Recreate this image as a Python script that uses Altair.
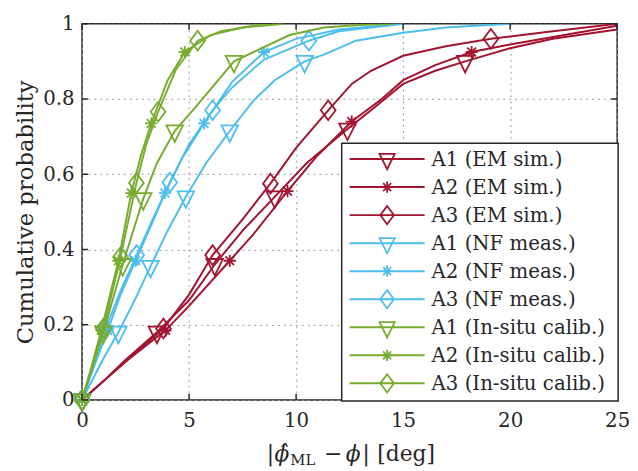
import altair as alt
import pandas as pd

# ---------------- data ----------------
series_names = [
    "A1 (EM sim.)", "A2 (EM sim.)", "A3 (EM sim.)",
    "A1 (NF meas.)", "A2 (NF meas.)", "A3 (NF meas.)",
    "A1 (In-situ calib.)", "A2 (In-situ calib.)", "A3 (In-situ calib.)",
]

# EM simulation
em_a1_x = [0, 1, 2, 3.5, 5, 6.2, 7.5, 9.0, 10.5, 12.4, 13.5, 15, 16.5, 17.9, 20, 22, 25]
em_a1_y = [0, 0.05, 0.105, 0.18, 0.265, 0.36, 0.45, 0.54, 0.63, 0.72, 0.77, 0.84, 0.875, 0.90, 0.935, 0.96, 0.985]
em_a1_mx = [0, 3.5, 6.2, 9.0, 12.4, 17.9]
em_a1_my = [0, 0.18, 0.36, 0.54, 0.72, 0.90]

em_a2_x = [0, 1, 2, 3.9, 5, 6.9, 8, 9.6, 11, 12.6, 14, 15, 16.5, 18.2, 20, 22, 25]
em_a2_y = [0, 0.05, 0.10, 0.185, 0.25, 0.37, 0.44, 0.555, 0.65, 0.74, 0.80, 0.85, 0.89, 0.925, 0.945, 0.965, 0.995]
em_a2_mx = [0, 3.9, 6.9, 9.6, 12.6, 18.2]
em_a2_my = [0, 0.185, 0.37, 0.555, 0.74, 0.925]

em_a3_x = [0, 1, 2, 3.8, 5, 6.1, 7.5, 8.8, 10, 11.5, 12.6, 13.5, 15, 17, 19.1, 22, 25]
em_a3_y = [0, 0.05, 0.10, 0.19, 0.28, 0.385, 0.48, 0.575, 0.67, 0.77, 0.84, 0.875, 0.915, 0.94, 0.96, 0.98, 1.0]
em_a3_mx = [0, 3.8, 6.1, 8.8, 11.5, 19.1]
em_a3_my = [0, 0.19, 0.385, 0.575, 0.77, 0.96]

# NF measurement
nf_a1_x = [0, 0.5, 1, 1.7, 2.5, 3.2, 4, 4.85, 5.8, 6.9, 8, 9, 10.4, 11.3, 12.8, 15, 17, 20]
nf_a1_y = [0, 0.055, 0.11, 0.18, 0.27, 0.355, 0.45, 0.54, 0.63, 0.715, 0.795, 0.85, 0.90, 0.918, 0.955, 0.976, 0.99, 1.0]
nf_a1_mx = [0, 1.7, 3.2, 4.85, 6.9, 10.4]
nf_a1_my = [0, 0.18, 0.355, 0.54, 0.715, 0.90]

nf_a2_x = [0, 0.5, 1.2, 1.8, 2.5, 3.2, 3.87, 4.7, 5.7, 7, 8.5, 10, 12, 15]
nf_a2_y = [0, 0.08, 0.185, 0.28, 0.37, 0.46, 0.55, 0.645, 0.735, 0.845, 0.925, 0.96, 0.985, 1.0]
nf_a2_mx = [0, 1.2, 2.5, 3.87, 5.7, 8.5]
nf_a2_my = [0, 0.185, 0.37, 0.55, 0.735, 0.925]

nf_a3_x = [0, 0.5, 1.1, 1.8, 2.55, 3.3, 4.1, 5, 6.1, 7, 8.5, 10.6, 12, 15]
nf_a3_y = [0, 0.085, 0.19, 0.29, 0.385, 0.48, 0.578, 0.68, 0.77, 0.83, 0.905, 0.955, 0.98, 1.0]
nf_a3_mx = [0, 1.1, 2.55, 4.1, 6.1, 10.6]
nf_a3_my = [0, 0.19, 0.385, 0.578, 0.77, 0.955]

# In-situ calibration
is_a1_x = [0, 0.5, 1.0, 1.9, 2.86, 3.5, 4.33, 5.4, 7.1, 8.2, 9.7, 11.3, 13, 14.6]
is_a1_y = [0, 0.09, 0.18, 0.36, 0.535, 0.63, 0.715, 0.785, 0.90, 0.93, 0.97, 0.99, 0.997, 1.0]
is_a1_mx = [0, 1.0, 1.9, 2.86, 4.33, 7.1]
is_a1_my = [0, 0.18, 0.36, 0.535, 0.715, 0.90]

is_a2_x = [0, 0.45, 0.9, 1.7, 2.3, 2.75, 3.23, 4, 4.8, 6, 7.5, 9.4]
is_a2_y = [0, 0.09, 0.185, 0.37, 0.55, 0.65, 0.735, 0.85, 0.925, 0.97, 0.99, 1.0]
is_a2_mx = [0, 0.9, 1.7, 2.3, 3.23, 4.8]
is_a2_my = [0, 0.185, 0.37, 0.55, 0.735, 0.925]

is_a3_x = [0, 0.5, 1.0, 1.8, 2.54, 3.0, 3.55, 4.4, 5.4, 6.5, 8, 9.4]
is_a3_y = [0, 0.095, 0.19, 0.38, 0.577, 0.68, 0.766, 0.88, 0.955, 0.98, 0.995, 1.0]
is_a3_mx = [0, 1.0, 1.8, 2.54, 3.55, 5.4]
is_a3_my = [0, 0.19, 0.38, 0.577, 0.766, 0.955]

x_ticks = [0, 5, 10, 15, 20, 25]
y_ticks = [0, 0.2, 0.4, 0.6, 0.8, 1.0]

# ---------------- styling ----------------
RED, BLUE, GREEN = "#A2142F", "#4DBEEE", "#77AC30"
TRI = "M-1,-0.667L1,-0.667L0,1.333Z"
AST = "M0,-1L0,1M-1,0L1,0M-0.72,-0.72L0.72,0.72M-0.72,0.72L0.72,-0.72"
DIA = "M0,-1.33L1,0L0,1.33L-1,0Z"
SHAPE_SIZE = {TRI: 280, AST: 150, DIA: 225}
FONT = "DejaVu Serif"
FS = 20
TFS = 22
INK = "#262626"

colors = [RED] * 3 + [BLUE] * 3 + [GREEN] * 3
shapes = [TRI, AST, DIA] * 3
lines_x = [em_a1_x, em_a2_x, em_a3_x, nf_a1_x, nf_a2_x, nf_a3_x, is_a1_x, is_a2_x, is_a3_x]
lines_y = [em_a1_y, em_a2_y, em_a3_y, nf_a1_y, nf_a2_y, nf_a3_y, is_a1_y, is_a2_y, is_a3_y]
marks_x = [em_a1_mx, em_a2_mx, em_a3_mx, nf_a1_mx, nf_a2_mx, nf_a3_mx, is_a1_mx, is_a2_mx, is_a3_mx]
marks_y = [em_a1_my, em_a2_my, em_a3_my, nf_a1_my, nf_a2_my, nf_a3_my, is_a1_my, is_a2_my, is_a3_my]

W, H = 542, 381

x_axis = alt.Axis(values=x_ticks, format="d", ticks=False, domain=False, grid=True,
                  gridDash=[2, 4], gridColor="#9a9a9a", gridWidth=1,
                  labelFont=FONT, labelFontSize=FS, labelColor=INK, labelPadding=11,
                  labelFlush=False, title=None)
y_axis = alt.Axis(values=y_ticks, format=".1~f", ticks=False, domain=False, grid=True,
                  gridDash=[2, 4], gridColor="#9a9a9a", gridWidth=1,
                  labelFont=FONT, labelFontSize=FS, labelColor=INK, labelPadding=8,
                  labelFlush=False,
                  title="Cumulative probability", titleFont=FONT, titleFontSize=23,
                  titleFontWeight="normal", titleColor=INK, titlePadding=5)
X = alt.X("x:Q", scale=alt.Scale(domain=[0, 25], nice=False, zero=False), axis=x_axis)
Y = alt.Y("y:Q", scale=alt.Scale(domain=[0, 1], nice=False, zero=False), axis=y_axis)

layers = []
for i in range(9):
    dl = pd.DataFrame({"x": lines_x[i], "y": lines_y[i]})
    dm = pd.DataFrame({"x": marks_x[i], "y": marks_y[i]})
    layers.append(alt.Chart(dl).mark_line(color=colors[i], strokeWidth=2, clip=True)
                  .encode(x=X, y=Y))
    layers.append(alt.Chart(dm).mark_point(shape=shapes[i], size=SHAPE_SIZE[shapes[i]],
                                           filled=False, color=colors[i], strokeWidth=1.8,
                                           opacity=1)
                  .encode(x=X, y=Y))

# inward ticks on all four sides
dxt = pd.DataFrame({"x": x_ticks})
dyt = pd.DataFrame({"y": y_ticks})
tick_style = dict(color=INK, strokeWidth=1.5)
layers.append(alt.Chart(dxt).mark_rule(**tick_style).encode(x=X, y=alt.value(H), y2=alt.value(H - 6)))
layers.append(alt.Chart(dxt).mark_rule(**tick_style).encode(x=X, y=alt.value(0), y2=alt.value(6)))
layers.append(alt.Chart(dyt).mark_rule(**tick_style).encode(y=Y, x=alt.value(0), x2=alt.value(6)))
layers.append(alt.Chart(dyt).mark_rule(**tick_style).encode(y=Y, x=alt.value(W), x2=alt.value(W - 6)))

# legend box
one = pd.DataFrame({"a": [0]})
layers.append(alt.Chart(one).mark_rect(fill="white", stroke=INK, strokeWidth=1.5)
              .encode(x=alt.value(263), x2=alt.value(543), y=alt.value(121), y2=alt.value(382)))
for i in range(9):
    yr = 137 + 28.4 * i
    layers.append(alt.Chart(one).mark_rule(color=colors[i], strokeWidth=2)
                  .encode(x=alt.value(271), x2=alt.value(347), y=alt.value(yr)))
    layers.append(alt.Chart(one).mark_point(shape=shapes[i], size=SHAPE_SIZE[shapes[i]] * 0.85,
                                            filled=False, color=colors[i], strokeWidth=1.8,
                                            opacity=1)
                  .encode(x=alt.value(309), y=alt.value(yr)))
    layers.append(alt.Chart(one).mark_text(text=series_names[i], font=FONT, fontSize=FS,
                                           color=INK, align="left", baseline="middle")
                  .encode(x=alt.value(354), y=alt.value(yr + 1)))

# x-axis title |phi_hat_ML - phi| [deg]
base = 443
title_parts = [
    ("|", 187, base, TFS, "normal"),
    ("\u03d5\u0302", 195, base, TFS, "italic"),
    ("ML", 211, base + 4, 15, "normal"),
    ("\u2212", 245, base, TFS, "normal"),
    ("\u03d5", 267, base, TFS, "italic"),
    ("|", 284, base, TFS, "normal"),
    ("[deg]", 299, base, TFS, "normal"),
]
for t, px, py, fs, st in title_parts:
    layers.append(alt.Chart(one).mark_text(text=t, font=FONT, fontSize=fs, fontStyle=st,
                                           color=INK, align="left", baseline="alphabetic")
                  .encode(x=alt.value(px), y=alt.value(py)))

chart = alt.layer(*layers).properties(
    width=W, height=H,
    autosize=alt.AutoSizeParams(type="none"),
    padding={"left": 75, "top": 13, "right": 13, "bottom": 69},
).configure_view(stroke=INK, strokeWidth=1.5)

chart.save("out.html", embed_options={"renderer": "svg", "actions": False})
